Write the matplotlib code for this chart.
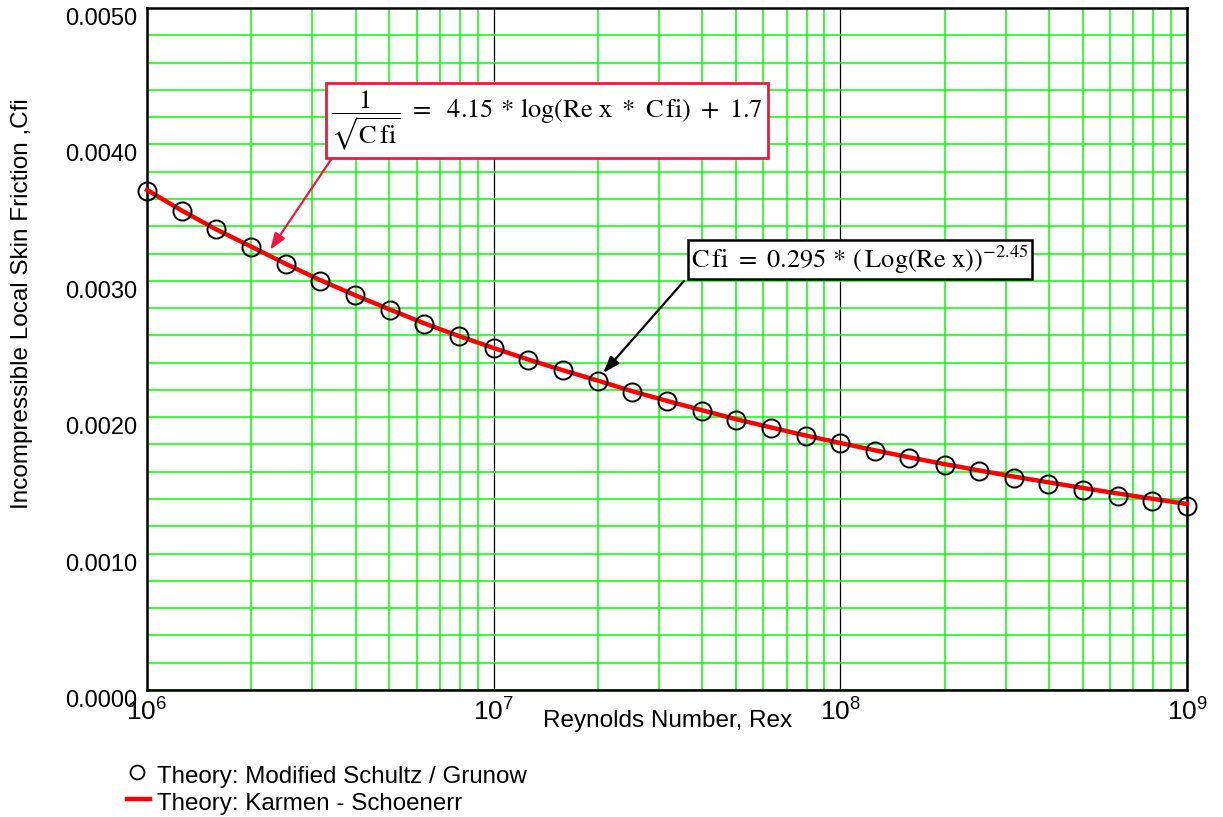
import matplotlib
matplotlib.use("Agg")
import matplotlib.pyplot as plt
from matplotlib.ticker import LogLocator, MultipleLocator, NullFormatter, FixedLocator
from matplotlib.lines import Line2D

plt.rcParams['font.family'] = ['Liberation Sans', 'DejaVu Sans']
plt.rcParams['mathtext.fontset'] = 'stix'

# ---- data ----
re_points = [1.0e6, 1.26e6, 1.58e6, 2.0e6, 2.51e6, 3.16e6, 3.98e6, 5.01e6, 6.31e6, 7.94e6,
             1.0e7, 1.26e7, 1.58e7, 2.0e7, 2.51e7, 3.16e7, 3.98e7, 5.01e7, 6.31e7, 7.94e7,
             1.0e8, 1.26e8, 1.58e8, 2.0e8, 2.51e8, 3.16e8, 3.98e8, 5.01e8, 6.31e8, 7.94e8,
             1.0e9]
cfi_schultz = [0.003658, 0.003512, 0.003380, 0.003248, 0.003123, 0.002998, 0.002896, 0.002786,
               0.002683, 0.002595, 0.002507, 0.002419, 0.002346, 0.002265, 0.002185, 0.002119,
               0.002045, 0.001979, 0.001921, 0.001862, 0.001811, 0.001752, 0.001701, 0.001650,
               0.001606, 0.001554, 0.001510, 0.001466, 0.001422, 0.001386, 0.001349]
cfi_karman = [0.003666, 0.003515, 0.003378, 0.003250, 0.003125, 0.003005, 0.002895, 0.002790,
              0.002688, 0.002595, 0.002507, 0.002422, 0.002345, 0.002268, 0.002190, 0.002120,
              0.002052, 0.001985, 0.001925, 0.001866, 0.001811, 0.001757, 0.001706, 0.001656,
              0.001610, 0.001565, 0.001523, 0.001481, 0.001441, 0.001402, 0.001364]

x_major = [1e6, 1e7, 1e8, 1e9]
x_labels = [r'$\mathregular{10^{6}}$', r'$\mathregular{10^{7}}$', r'$\mathregular{10^{8}}$', r'$\mathregular{10^{9}}$']
y_ticks = [0.0, 0.001, 0.002, 0.003, 0.004, 0.005]
y_labels = ['0.0000', '0.0010', '0.0020', '0.0030', '0.0040', '0.0050']

legend_labels = ['Theory: Modified Schultz / Grunow', 'Theory: Karmen - Schoenerr']
eq_implicit = r'$\dfrac{1}{\sqrt{\mathrm{C\,fi}}}\ =\ \ 4.15\,*\,\mathrm{log(Re\ x\ *\ C\,fi)}\ +\ 1.7$'
eq_explicit = r'$\mathrm{C\,fi}\ =\ 0.295\,*\,(\,\mathrm{Log(Re\ x)})^{-2.45}$'

GREEN = '#00ff00'
RED = '#ff0000'
PINK = '#f0183c'

fig = plt.figure(figsize=(12.23, 8.17), dpi=100)
ax = fig.add_axes([147/1223, 1-690/817, 1040/1223, 682/817])

ax.set_xscale('log')
ax.set_xlim(1e6, 1e9)
ax.set_ylim(0, 0.005)

# grid
ax.xaxis.set_major_locator(FixedLocator(x_major))
ax.xaxis.set_minor_locator(LogLocator(base=10, subs=range(2, 10), numticks=20))
ax.xaxis.set_minor_formatter(NullFormatter())
ax.set_xticks(x_major)
ax.set_xticklabels(x_labels, fontsize=19)
ax.set_yticks(y_ticks)
ax.set_yticklabels(y_labels, fontsize=17)
ax.yaxis.set_minor_locator(MultipleLocator(0.0002))
ax.grid(which='minor', axis='x', color=GREEN, lw=1.1)
ax.grid(which='major', axis='x', color='black', lw=0.9)
ax.grid(which='both', axis='y', color=GREEN, lw=1.1)
ax.set_axisbelow(True)
ax.tick_params(which='both', length=0)
ax.tick_params(axis='y', pad=7)
ax.tick_params(axis='x', pad=6)
for lab in ax.get_yticklabels():
    lab.set_verticalalignment('top')
for s in ax.spines.values():
    s.set_color('black')
    s.set_linewidth(1.8)

ax.plot(re_points, cfi_karman, color=RED, lw=3.2, zorder=3, clip_on=False)
ax.plot(re_points, cfi_schultz, linestyle='none', marker='o', ms=13, mfc='none',
        mec='black', mew=1.4, zorder=4, clip_on=False)

# annotations
ax.text(1.425e7, 0.004175, eq_implicit, fontsize=19, ha='center', va='center', zorder=6,
        bbox=dict(boxstyle='square,pad=0.2', fc='white', ec=PINK, lw=2))
ax.annotate('', xy=(2.264e6, 0.003226), xytext=(3.42e6, 0.003900), zorder=5,
            arrowprops=dict(arrowstyle='-|>,head_length=1.0,head_width=0.35', color=PINK,
                            lw=1.6, shrinkA=0, shrinkB=0))
ax.text(1.139e8, 0.003156, eq_explicit, fontsize=19, ha='center', va='center', zorder=6,
        bbox=dict(boxstyle='square,pad=0.12', fc='white', ec='black', lw=1.8))
ax.annotate('', xy=(2.07e7, 0.002324), xytext=(3.54e7, 0.002999), zorder=5,
            arrowprops=dict(arrowstyle='-|>,head_length=1.0,head_width=0.35', color='black',
                            lw=1.6, shrinkA=0, shrinkB=0))

# axis labels
fig.text(668/1223, 1-721/817, 'Reynolds Number, Rex', fontsize=17.5, ha='center', va='center')
fig.text(22/1223, 1-304/817, 'Incompressible Local Skin Friction ,Cfi', fontsize=17.5,
         rotation=90, ha='center', va='center')

# manual legend
fig.add_artist(Line2D([137/1223], [1-772/817], transform=fig.transFigure, marker='o',
                      ms=10, mfc='none', mec='black', mew=1.3, linestyle='none'))
fig.add_artist(Line2D([127/1223, 150/1223], [1-799/817, 1-799/817], transform=fig.transFigure,
                      color=RED, lw=3.2))
fig.text(157/1223, 1-783/817, legend_labels[0], fontsize=17.4, ha='left', va='baseline')
fig.text(157/1223, 1-810/817, legend_labels[1], fontsize=17.4, ha='left', va='baseline')

fig.savefig('out.png', dpi=100)
